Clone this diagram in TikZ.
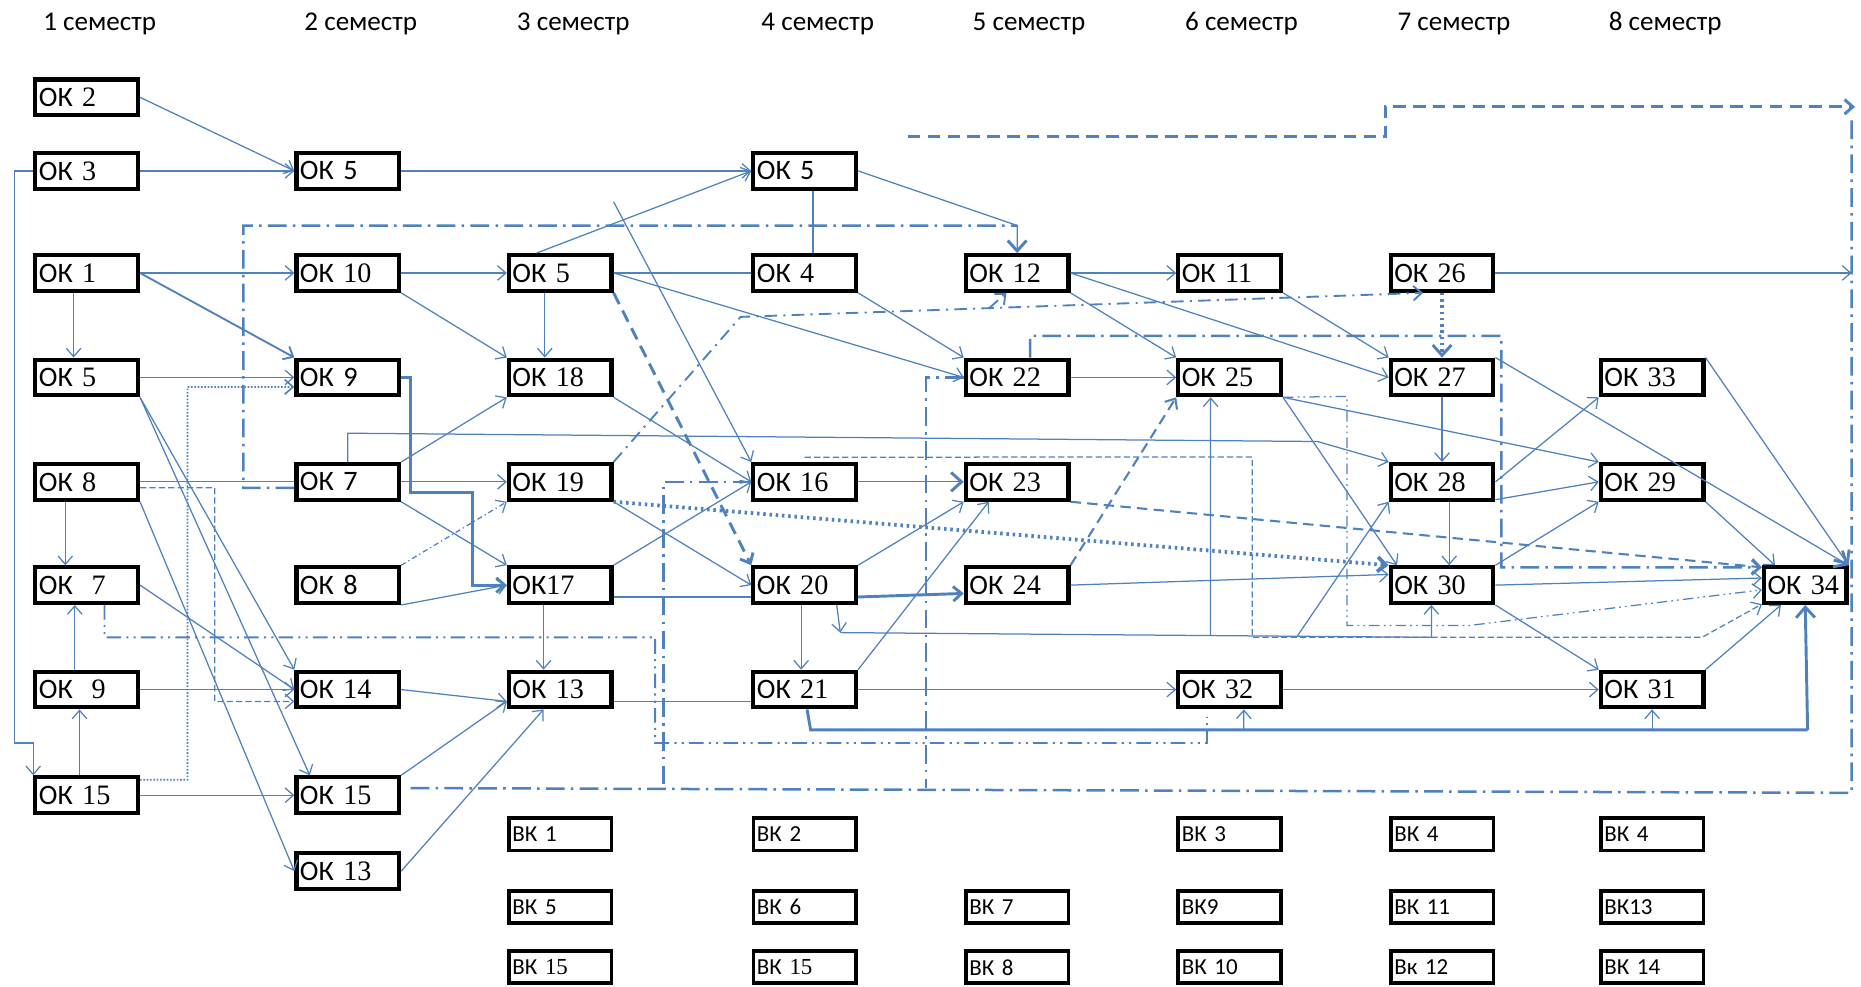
\documentclass[tikz,border=0pt]{standalone}
\usepackage{fontspec}
\setmainfont{Carlito}
\newfontfamily\tms{Liberation Serif}
\usetikzlibrary{arrows.meta}
\definecolor{okblue}{RGB}{79,129,189}
\newcommand\ok[1]{ОК {\tms #1}}
\newcommand\oks[1]{ОК #1}
\begin{document}
\begin{tikzpicture}[x=0.02cm,y=-0.02cm,>={Straight Barb[length=4pt,width=7pt]},sem/.style={font=\fontsize{13}{15}\selectfont},ok/.style={draw=black,line width=2pt,minimum height=0.6cm,text width=1.61cm,inner xsep=0.06cm,inner ysep=0pt,align=left,font=\fontsize{13.5}{15}\selectfont},okw/.style={ok,text width=1.27cm},vk/.style={ok,line width=1.8pt,minimum height=0.54cm,font=\fontsize{11}{13}\selectfont},lnk/.style={draw=okblue,line width=0.6pt},lnT/.style={draw=okblue,line width=1.4pt},arT/.style={-{Straight Barb[length=5pt,width=9pt,line width=1.4pt]}},ddT/.style={draw=okblue,line width=1.2pt,dash pattern=on 9pt off 3pt on 1.2pt off 3pt},ddd/.style={draw=okblue,line width=0.9pt,dash pattern=on 7pt off 2.5pt on 1pt off 2.5pt on 1pt off 2.5pt},dddS/.style={draw=okblue,line width=0.6pt,dash pattern=on 5pt off 2pt on 0.8pt off 2pt on 0.8pt off 2pt},dsT/.style={draw=okblue,line width=1.4pt,dash pattern=on 6pt off 3.5pt},dsM/.style={draw=okblue,line width=1pt,dash pattern=on 5pt off 3pt},dsS/.style={draw=okblue,line width=0.6pt,dash pattern=on 3pt off 1.5pt},dtT/.style={draw=okblue,line width=1.8pt,dash pattern=on 1.2pt off 1.8pt},dtS/.style={draw=okblue,line width=0.8pt,dash pattern=on 0.8pt off 0.8pt},dcd/.style={draw=okblue,line width=0.9pt,dash pattern=on 6pt off 3pt on 1pt off 3pt},dcdS/.style={draw=okblue,line width=0.6pt,dash pattern=on 2.5pt off 1.5pt on 0.6pt off 1.5pt}]
\def\xa{73}
\def\xb{293}
\def\xc{472}
\def\xd{678}
\def\xe{857}
\def\xf{1036}
\def\xg{1215}
\def\xh{1392}
\def\ya{82}
\def\yb{144}
\def\yc{230}
\def\yd{318}
\def\ye{406}
\def\yf{493}
\def\yg{581}
\def\yh{670}
\def\yi{734}
\def\va{703}
\def\vb{764}
\def\vc{815}
\useasboundingbox (0,0) rectangle (1568,831);

\node[sem] (s1) at (84,20) {1 семестр};
\node[sem] (s2) at (304,20) {2 семестр};
\node[sem] (s3) at (483,20) {3 семестр};
\node[sem] (s4) at (689,20) {4 семестр};
\node[sem] (s5) at (867,20) {5 семестр};
\node[sem] (s6) at (1046,20) {6 семестр};
\node[sem] (s7) at (1225,20) {7 семестр};
\node[sem] (s8) at (1403,20) {8 семестр};

\node[ok] (k2) at (\xa,\ya) {\ok{2}};
\node[ok] (k3) at (\xa,\yb) {\ok{3}};
\node[ok] (k1) at (\xa,\yc) {\ok{1}};
\node[ok] (k5a) at (\xa,\yd) {\ok{5}};
\node[ok] (k8a) at (\xa,\ye) {\ok{8}};
\node[ok] (k7a) at (\xa,\yf) {ОК\ \ {\tms 7}};
\node[ok] (k9a) at (\xa,\yg) {ОК\ \ {\tms 9}};
\node[ok] (k15a) at (\xa,\yh) {\ok{15}};

\node[ok] (k5b) at (\xb,\yb) {\oks{5}};
\node[ok] (k10) at (\xb,\yc) {\ok{10}};
\node[ok] (k9) at (\xb,\yd) {\oks{9}};
\node[ok] (k7b) at (\xb,\ye) {\oks{7}};
\node[ok] (k8b) at (\xb,\yf) {\oks{8}};
\node[ok] (k14) at (\xb,\yg) {\ok{14}};
\node[ok] (k15b) at (\xb,\yh) {\ok{15}};
\node[ok] (k13b) at (\xb,\yi) {\ok{13}};

\node[ok] (k5c) at (\xc,\yc) {\ok{5}};
\node[ok] (k18) at (\xc,\yd) {\ok{18}};
\node[ok] (k19) at (\xc,\ye) {\ok{19}};
\node[ok] (k17) at (\xc,\yf) {ОК{\tms 17}};
\node[ok] (k13) at (\xc,\yg) {\ok{13}};

\node[ok] (k5d) at (\xd,\yb) {\oks{5}};
\node[ok] (k4) at (\xd,\yc) {\ok{4}};
\node[ok] (k16) at (\xd,\ye) {\ok{16}};
\node[ok] (k20) at (\xd,\yf) {\ok{20}};
\node[ok] (k21) at (\xd,\yg) {\ok{21}};

\node[ok] (k12) at (\xe,\yc) {\ok{12}};
\node[ok] (k22) at (\xe,\yd) {\ok{22}};
\node[ok] (k23) at (\xe,\ye) {\ok{23}};
\node[ok] (k24) at (\xe,\yf) {\ok{24}};

\node[ok] (k11) at (\xf,\yc) {\ok{11}};
\node[ok] (k25) at (\xf,\yd) {\ok{25}};
\node[ok] (k32) at (\xf,\yg) {\ok{32}};

\node[ok] (k26) at (\xg,\yc) {\ok{26}};
\node[ok] (k27) at (\xg,\yd) {\ok{27}};
\node[ok] (k28) at (\xg,\ye) {\ok{28}};
\node[ok] (k30) at (\xg,\yf) {\ok{30}};

\node[ok] (k33) at (\xh,\yd) {\ok{33}};
\node[ok] (k29) at (\xh,\ye) {\ok{29}};
\node[ok] (k31) at (\xh,\yg) {\ok{31}};
\node[okw] (k34) at (1521,\yf) {\ok{34}};

\node[vk] (v1) at (\xc,\va) {ВК 1};
\node[vk] (v5) at (\xc,\vb) {ВК 5};
\node[vk] (v15a) at (\xc,\vc) {ВК {\tms 15}};
\node[vk] (v2) at (\xd,\va) {ВК 2};
\node[vk] (v6) at (\xd,\vb) {ВК 6};
\node[vk] (v15b) at (\xd,\vc) {ВК {\tms 15}};
\node[vk] (v7) at (\xe,\vb) {ВК 7};
\node[vk] (v8) at (\xe,\vc) {ВК 8};
\node[vk] (v3) at (\xf,\va) {ВК 3};
\node[vk] (v9) at (\xf,\vb) {ВК9};
\node[vk] (v10) at (\xf,\vc) {ВК 10};
\node[vk] (v4a) at (\xg,\va) {ВК 4};
\node[vk] (v11) at (\xg,\vb) {ВК 11};
\node[vk] (v12) at (\xg,\vc) {Вк 12};
\node[vk] (v4b) at (\xh,\va) {ВК 4};
\node[vk] (v13) at (\xh,\vb) {ВК13};
\node[vk] (v14) at (\xh,\vc) {ВК 14};

\coordinate (c12) at (857,190);
\coordinate (b1) at (12,626);
\coordinate (f1) at (517,170);
\coordinate (e26) at (1560,230);
\coordinate (p1) at (293,365);
\coordinate (p2) at (1110,372);
\coordinate (t1) at (346,415);
\coordinate (t2) at (398,493);
\coordinate (q1) at (624,267);
\coordinate (q2) at (833,260);
\coordinate (h1) at (708,533);
\coordinate (h2) at (1206,537);
\coordinate (h3) at (1020,535);
\coordinate (h4) at (1093,536);
\coordinate (r1) at (683,615);
\coordinate (r2) at (1523,615);
\coordinate (r3) at (1392,615);
\coordinate (r4) at (1048,615);
\coordinate (a1) at (205,411);
\coordinate (a2) at (205,190);
\coordinate (w1) at (88,537);
\coordinate (w2) at (552,537);
\coordinate (w3) at (552,626);
\coordinate (w4) at (1017,626);
\coordinate (w5) at (1017,604);
\coordinate (z1) at (346,664);
\coordinate (z2) at (1560,668);
\coordinate (z3) at (1560,100);
\coordinate (d1) at (559,406);
\coordinate (d2) at (559,664);
\coordinate (d3) at (780,318);
\coordinate (d4) at (780,664);
\coordinate (e1) at (868,283);
\coordinate (e2) at (1265,283);
\coordinate (e3) at (1265,478);
\coordinate (n1) at (1135,334);
\coordinate (n2) at (1135,527);
\coordinate (n3) at (1238,527);
\coordinate (g1) at (1055,385);
\coordinate (g2) at (1055,537);
\coordinate (g3) at (1434,537);
\coordinate (u1) at (765,115);
\coordinate (u2) at (1167,115);
\coordinate (u3) at (1167,90);
\coordinate (u4) at (1563,90);
\coordinate (l1) at (158,657);
\coordinate (l2) at (158,326);
\coordinate (m1) at (181,411);
\coordinate (m2) at (181,591);

\draw[lnk,->] (k2.east) -- (k5b.west);
\draw[lnk,->] (k3.east) -- (k5b.west);
\draw[lnk,->] (k3.west) -| (b1) -| (k15a.north west);
\draw[lnk,->] (k5b.east) -- (k5d.west);
\draw[lnk,->] ([xshift=-0.4cm]k5c.north) -- (k5d.west);
\draw[lnk] ([xshift=0.14cm]k5d.south) -- ([xshift=0.14cm]k4.north);
\draw[lnk,arT] (k5d.east) -- (c12) -- (k12.north);
\draw[lnk,->] (k1.east) -- (k10.west);
\draw[lnk,->,line width=0.9pt] (k1.east) -- (k9.north west);
\draw[lnk,->] ([xshift=-0.22cm]k1.south) -- ([xshift=-0.22cm]k5a.north);
\draw[lnk,->] (k10.east) -- (k5c.west);
\draw[lnk,->] (k10.south east) -- (k18.north west);
\draw[lnk,->] ([xshift=-0.26cm]k5c.south) -- ([xshift=-0.26cm]k18.north);
\draw[lnk] (k5c.east) -- (k4.west);
\draw[lnk,->] (k5c.east) -- (k22.west);
\draw[lnk,->] (k4.south east) -- (k22.north west);
\draw[lnk,->] (f1) -- (k16.north west);
\draw[lnk,->] (k12.east) -- (k11.west);
\draw[lnk,->] (k12.south east) -- (k25.north west);
\draw[lnk,->] (k12.east) -- (k27.west);
\draw[lnk,->] (k11.south east) -- (k27.north west);
\draw[lnk,->] (k26.east) -- (e26);
\draw[lnk,->] (k5a.east) -- (k9.west);
\draw[lnk,->] (k5a.south east) -- (k14.north west);
\draw[lnk,->] (k5a.south east) -- ([xshift=0.26cm]k15b.north west);
\draw[lnk,->] (k8a.south east) -- (k13b.west);
\draw[lnk,->] (k7a.east) -- (k14.west);
\draw[lnk,->] (k9a.east) -- (k14.west);
\draw[lnk] (k8a.east) -- (k7b.west);
\draw[lnk,->] ([xshift=-0.36cm]k8a.south) -- ([xshift=-0.36cm]k7a.north);
\draw[lnk,->] ([xshift=-0.12cm]k15a.north) -- ([xshift=-0.12cm]k9a.south);
\draw[lnk,->] ([xshift=-0.2cm]k9a.north) -- ([xshift=-0.2cm]k7a.south);
\draw[lnk,->] (k15a.east) -- (k15b.west);
\draw[lnk,->] (k14.east) -- ([yshift=-0.2cm]k13.west);
\draw[lnk,->] (k15b.north east) -- ([yshift=-0.2cm]k13.west);
\draw[lnk,->] (k13b.east) -- ([xshift=-0.28cm]k13.south);
\draw[lnk,->] (k7b.north east) -- (k18.south west);
\draw[lnk,->] (k7b.north) -- (p1) -- (p2) -- (k28.north west);
\draw[lnk,->] (k7b.east) -- (k19.west);
\draw[lnk,->] (k7b.south east) -- (k17.north west);
\draw[lnT,->] (k9.east) -| (t1) -| (t2) -- (k17.west);
\draw[lnk,->] (k8b.south east) -- (k17.west);
\draw[dcdS,->] (k8b.north east) -- (k19.south west);
\draw[lnk,->] (k17.north east) -- (k16.west);
\draw[lnk] ([yshift=-0.2cm]k17.east) -- ([yshift=-0.2cm]k20.west);
\draw[lnk,->] ([xshift=-0.28cm]k17.south) -- ([xshift=-0.28cm]k13.north);
\draw[lnk,->] (k18.south east) -- (k16.west);
\draw[lnk,->] (k19.south east) -- (k20.west);
\draw[dtT,->] (k19.south east) -- (k30.north west);
\draw[dcd,->] (k19.north east) -- (q1) -- ([xshift=-0.32cm]k26.south);
\draw[dcd,->] (q2) -- ([xshift=-0.18cm]k12.south);
\draw[lnk,arT] (k16.east) -- (k23.west);
\draw[lnk,->] (k20.north east) -- (k23.south west);
\draw[lnT,->] ([yshift=-0.2cm]k20.east) -- ([yshift=-0.14cm]k24.west);
\draw[lnk,->] ([xshift=-0.06cm]k20.south) -- ([xshift=-0.06cm]k21.north);
\draw[lnk,->] ([xshift=0.54cm]k20.south) -- (h1);
\draw[lnk,->] (h1) -- (h2) -- ([xshift=-0.18cm]k30.south);
\draw[lnk,->] (h3) -- ([xshift=-0.32cm]k25.south);
\draw[lnk,->] (h4) -- (k28.south west);
\draw[lnk,->] (k21.north east) -- ([xshift=-0.48cm]k23.south);
\draw[lnk,->] (k21.east) -- (k32.west);
\draw[lnk] ([yshift=-0.2cm]k13.east) -- ([yshift=-0.2cm]k21.west);
\draw[lnT] ([xshift=0.04cm]k21.south) -- (r1) -- (r2);
\draw[lnT,arT] (r2) -- (k34.south);
\draw[lnk,->] (r3) -- (k31.south);
\draw[lnk,->] (r4) -- ([xshift=0.24cm]k32.south);
\draw[lnk,->] (k22.east) -- (k25.west);
\draw[lnk,->] (k25.south east) -- (k29.north west);
\draw[lnk,->] (k25.south east) -- ([xshift=-0.76cm]k30.north);
\draw[dsM,->] (k24.north east) -- (k25.south west);
\draw[dtT,arT] (k26.south) -- (k27.north);
\draw[lnk,->] (k27.south) -- (k28.north);
\draw[lnk,->] ([xshift=0.12cm]k28.south) -- ([xshift=0.12cm]k30.north);
\draw[lnk,->] (k28.east) -- (k33.south west);
\draw[lnk,->] ([yshift=-0.3cm]k28.east) -- (k29.west);
\draw[lnk,->] (k30.north east) -- (k29.south west);
\draw[lnk,->] (k30.east) -- ([yshift=0.12cm]k34.west);
\draw[lnk,->] (k24.east) -- ([yshift=0.18cm]k30.west);
\draw[lnk,->] (k30.south east) -- (k31.north west);
\draw[lnk,->] (k32.east) -- (k31.west);
\draw[lnk,->] (k31.north east) -- ([xshift=0.32cm]k34.south west);
\draw[lnk,->] (k29.south east) -- ([xshift=0.22cm]k34.north west);
\draw[lnk,arT] (k27.north east) -- (k34.north east);
\draw[lnk,arT] (k33.north east) -- (k34.north east);

\draw[ddT] ([yshift=-0.1cm]k7b.west) -- (a1) -- (a2) -- (c12);
\draw[ddd] ([xshift=0.3cm]k7a.south) -- (w1) -- (w2) -- (w3) -- (w4) -- (w5);
\draw[ddT] (z1) -- (z2) -- (z3);
\draw[ddT] (k16.west) -- (d1) -- (d2);
\draw[ddT] (k22.west) -- (d3) -- (d4);
\draw[ddT,->] ([xshift=0.22cm]k22.north) -- (e1) -- (e2) -- (e3) -- ([yshift=0.3cm]k34.west);
\draw[dddS,->] (k25.south east) -- (n1) -- (n2) -- (n3) -- ([yshift=-0.08cm]k34.west);
\draw[dsS,->] ([yshift=0.08cm]k16.north) -- (g1) -- (g2) -- (g3) -- ([yshift=-0.32cm]k34.west);
\draw[dsM,->] (k23.south east) -- ([yshift=0.3cm]k34.west);
\draw[dsT,->] (k5c.south east) -- (k20.north west);
\draw[dsT,->] (u1) -- (u2) -- (u3) -- (u4);
\draw[dtS,->] ([yshift=0.26cm]k15a.east) -- (l1) -- (l2) -- ([yshift=-0.16cm]k9.west);
\draw[dsS,->] ([yshift=-0.1cm]k8a.east) -- (m1) -- (m2) -- ([yshift=-0.2cm]k14.west);
\end{tikzpicture}
\end{document}
